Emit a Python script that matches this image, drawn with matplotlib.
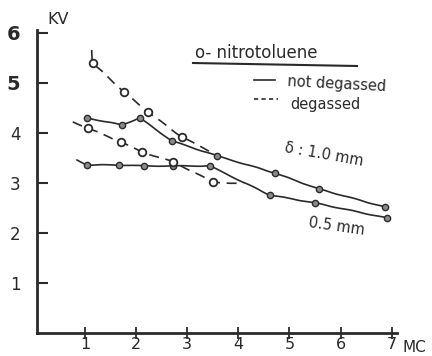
import matplotlib
matplotlib.use("Agg")
import matplotlib.pyplot as plt

# readings (x in MC, y in KV)
# delta = 1.0 mm
thick_solid_x = [1.04, 1.72, 2.07, 2.70, 3.59, 4.71, 5.57, 6.86]
thick_solid_y = [4.30, 4.16, 4.30, 3.84, 3.54, 3.20, 2.88, 2.52]
thick_gas_x = [1.13, 1.15, 1.76, 2.23, 2.89, 3.60]
thick_gas_y = [5.66, 5.40, 4.82, 4.42, 3.92, 3.55]
thick_gas_mx = [1.15, 1.76, 2.23, 2.89]
thick_gas_my = [5.40, 4.82, 4.42, 3.92]

# delta = 0.5 mm
thin_solid_x = [0.84, 1.04, 1.66, 2.15, 2.73, 3.44, 4.61, 5.50, 6.90]
thin_solid_y = [3.46, 3.36, 3.36, 3.34, 3.34, 3.34, 2.76, 2.60, 2.30]
thin_solid_mx = thin_solid_x[1:]
thin_solid_my = thin_solid_y[1:]
thin_gas_x = [0.76, 1.05, 1.70, 2.11, 2.73, 3.50, 4.10]
thin_gas_y = [4.22, 4.10, 3.82, 3.62, 3.42, 3.02, 2.98]
thin_gas_mx = [1.05, 1.70, 2.11, 2.73, 3.50]
thin_gas_my = [4.10, 3.82, 3.62, 3.42, 3.02]

x_ticks = [1, 2, 3, 4, 5, 6, 7]
y_ticks = [1, 2, 3, 4, 5, 6]

ink = "#2a2a2a"

fig = plt.figure(figsize=(4.32, 3.56), dpi=100)
ax = fig.add_axes([0.0856, 0.0646, 0.833, 0.85])

def draw(x, y, dashed=False):
    ln, = ax.plot(x, y, color=ink, linewidth=1.2, solid_capstyle="round")
    if dashed:
        ln.set_dashes((6, 4))
    ln.set_sketch_params(scale=0.3, length=40, randomness=2)

draw(thick_solid_x, thick_solid_y)
draw(thin_solid_x, thin_solid_y)
draw(thick_gas_x, thick_gas_y, dashed=True)
draw(thin_gas_x, thin_gas_y, dashed=True)

ax.plot(thick_solid_x, thick_solid_y, "o", ms=4.5, mfc="#8a8a8a", mec=ink, mew=1)
ax.plot(thin_solid_mx, thin_solid_my, "o", ms=4.5, mfc="#8a8a8a", mec=ink, mew=1)
ax.plot(thick_gas_mx, thick_gas_my, "o", ms=5.5, mfc="white", mec=ink, mew=1.3)
ax.plot(thin_gas_mx, thin_gas_my, "o", ms=5.5, mfc="white", mec=ink, mew=1.3)

ax.set_xlim(0.06, 7.1)
ax.set_ylim(0, 6.05)
for s in ["top", "right"]:
    ax.spines[s].set_visible(False)
for s in ["left", "bottom"]:
    ax.spines[s].set_linewidth(2)
    ax.spines[s].set_color(ink)

ax.set_xticks(x_ticks)
ax.set_yticks(y_ticks)
ax.set_yticklabels([str(t) for t in y_ticks])
ax.tick_params(axis="x", direction="inout", length=8, width=1.3, color=ink,
               labelsize=11.5, labelcolor=ink, pad=-1)
ax.tick_params(axis="y", direction="in", length=8, width=1.5, color=ink,
               labelsize=12, labelcolor=ink, pad=12)
for lab in ax.get_yticklabels()[-2:]:
    lab.set_fontsize(14)
    lab.set_fontweight("bold")

fig.text(47 / 432, 1 - 20 / 356, "KV", fontsize=11.5, color=ink, va="center")
fig.text(403 / 432, 1 - 347 / 356, "MC", fontsize=11, color=ink, va="center")

# legend written by hand on the chart
fig.text(195 / 432, 1 - 53 / 356, "o- nitrotoluene", fontsize=12, color=ink, va="center")
fig.add_artist(plt.Line2D([193 / 432, 357 / 432], [1 - 63 / 356, 1 - 66 / 356],
                          color=ink, lw=1.5))
fig.add_artist(plt.Line2D([254 / 432, 275 / 432], [1 - 80 / 356, 1 - 80 / 356],
                          color=ink, lw=1.2))
fig.text(287 / 432, 1 - 84 / 356, "not degassed", fontsize=10.5, color=ink,
         va="center", rotation=-3)
fig.add_artist(plt.Line2D([254 / 432, 278 / 432], [1 - 99 / 356, 1 - 99 / 356],
                          color=ink, lw=1.2, dashes=(2.5, 2)))
fig.text(290 / 432, 1 - 104 / 356, "degassed", fontsize=10.5, color=ink, va="center")

ax.text(4.88, 3.28, "δ : 1.0 mm", fontsize=10.5, color=ink, rotation=-10,
        ha="left", va="bottom")
ax.text(5.35, 2.35, "0.5 mm", fontsize=10.5, color=ink, rotation=-8,
        ha="left", va="top")

fig.savefig("out.png", dpi=100)
